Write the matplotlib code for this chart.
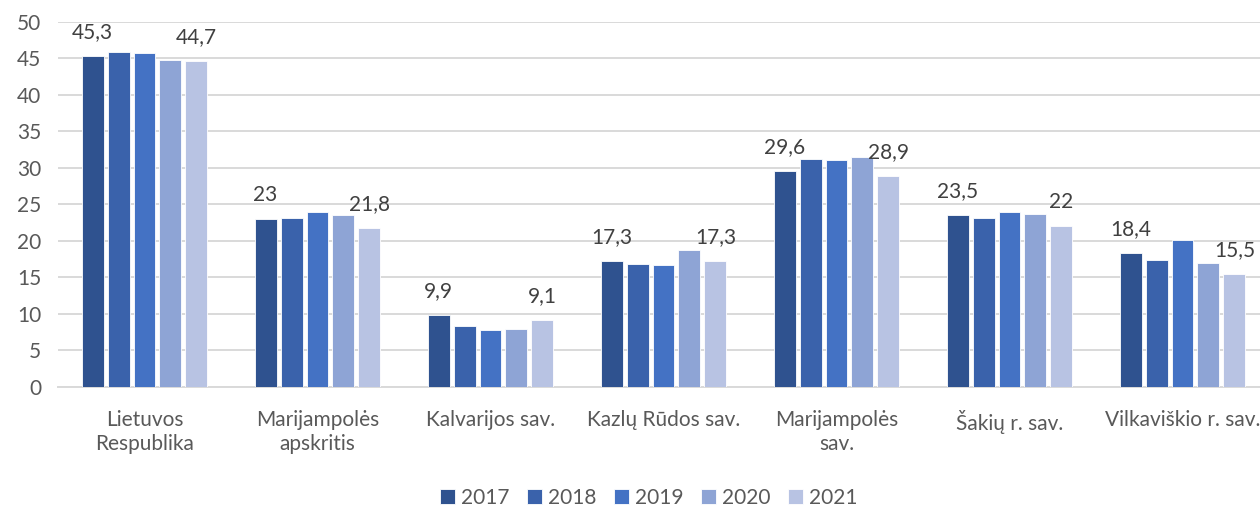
import numpy as np
import matplotlib.pyplot as plt

# duomenys
categories = ["Lietuvos\nRespublika", "Marijampolės\napskritis", "Kalvarijos sav.",
              "Kazlų Rūdos sav.", "Marijampolės\nsav.", "Šakių r. sav.", "Vilkaviškio r. sav."]
years = ["2017", "2018", "2019", "2020", "2021"]
v2017 = [45.3, 23.0, 9.9, 17.3, 29.6, 23.5, 18.4]
v2018 = [45.9, 23.2, 8.3, 16.9, 31.2, 23.2, 17.4]
v2019 = [45.7, 24.0, 7.8, 16.7, 31.1, 23.9, 20.1]
v2020 = [44.8, 23.6, 7.9, 18.8, 31.5, 23.7, 17.0]
v2021 = [44.7, 21.8, 9.1, 17.3, 28.9, 22.0, 15.5]
series = [v2017, v2018, v2019, v2020, v2021]
colors = ["#2F528F", "#3A62AB", "#4472C4", "#8EA4D5", "#B8C3E3"]

plt.rcParams['font.family'] = ['Lato', 'DejaVu Sans']
txt = "#595959"

fig = plt.figure(figsize=(12.6, 5.11), dpi=100)
ax = fig.add_axes([58 / 1260, 0.243, 7 * 173 / 1260, 0.714])

x = np.arange(len(categories))
slot = 0.15
bw = 0.127
for i, (vals, c, yr) in enumerate(zip(series, colors, years)):
    pos = x + (i - 2) * slot
    bars = ax.bar(pos, vals, width=bw, color=c, edgecolor="white", linewidth=0.6,
                  label=yr, zorder=3)
    # skaičiai tik pirmiems ir paskutiniams metams
    if i in (0, 4):
        for b, v in zip(bars, vals):
            lab = ("%g" % v).replace(".", ",")
            ax.annotate(lab, (b.get_x() + b.get_width() / 2, v), xytext=(0, 10),
                        textcoords="offset points", ha="center", va="bottom",
                        fontsize=15, color="#404040")

ax.set_xlim(-0.5, len(categories) - 0.5)
ax.set_ylim(0, 50)
ax.set_yticks(np.arange(0, 51, 5))
ax.set_xticks(x)
ax.set_xticklabels(categories, fontsize=15, color=txt, linespacing=1.2)
ax.tick_params(axis="y", labelsize=15, labelcolor=txt, length=0, pad=12)
ax.tick_params(axis="x", length=0, pad=17)
ax.grid(axis="y", color="#D9D9D9", linewidth=1.4, zorder=0)
for s in ["top", "right", "left"]:
    ax.spines[s].set_visible(False)
ax.spines["bottom"].set_color("#D9D9D9")
ax.spines["bottom"].set_linewidth(1.4)

fig.legend(loc="lower center", bbox_to_anchor=(0.515, -0.03), ncol=5, frameon=False,
           fontsize=15, labelcolor=txt, handlelength=0.7, handleheight=0.7,
           handletextpad=0.3, columnspacing=0.85)

fig.savefig("out.png", dpi=100)
